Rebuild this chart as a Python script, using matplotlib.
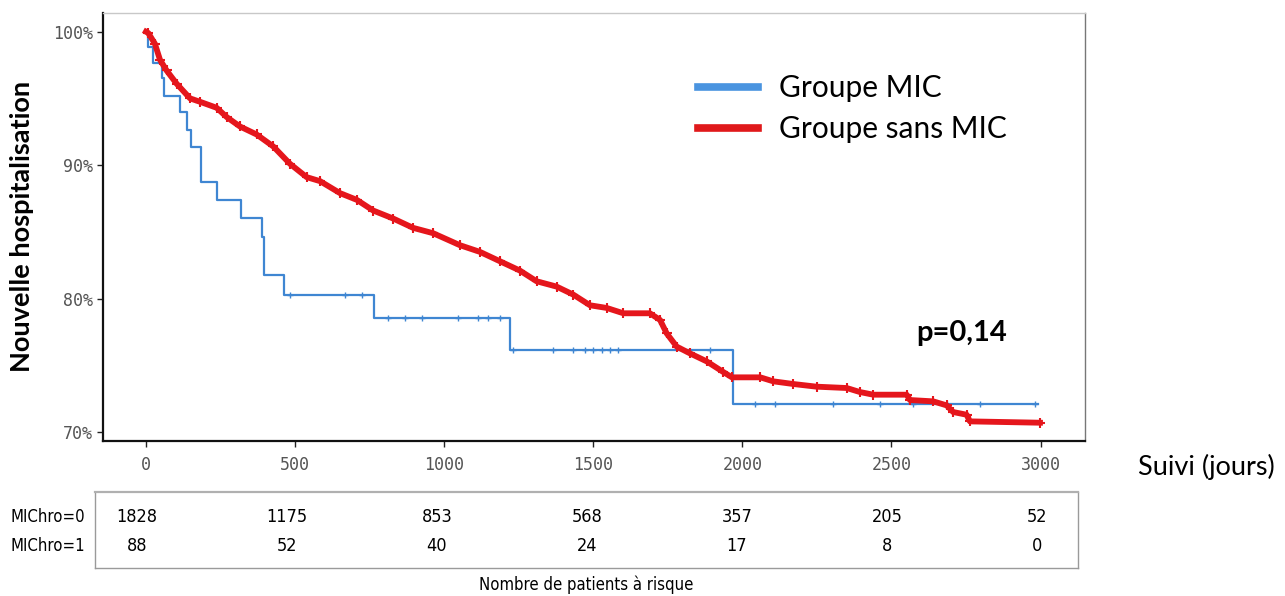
import numpy as np
import matplotlib
matplotlib.use("Agg")
import matplotlib.pyplot as plt
from matplotlib.lines import Line2D
from matplotlib.ticker import FuncFormatter

# ---------------- data ----------------
blue_t = [0, 7, 23, 54, 60, 114, 137, 151, 184, 238, 319, 389, 396, 463, 765, 1221, 1967, 2991]
blue_s = [100, 98.85, 97.65, 96.5, 95.2, 94.0, 92.65, 91.35, 88.75, 87.4, 86.05, 84.6, 81.75, 80.3, 78.55, 76.15, 72.1, 72.1]
blue_cens_t = [483, 667, 724, 812, 869, 926, 1046, 1113, 1147, 1187, 1231, 1365, 1432, 1472,
               1499, 1529, 1556, 1583, 1891, 2042, 2109, 2304, 2461, 2572, 2686, 2797, 2981]

red_t = [0, 8, 30, 47, 69, 103, 148, 181, 237, 271, 315, 371, 427, 483, 539, 584, 651, 707, 762, 829,
         896, 963, 1053, 1120, 1187, 1254, 1310, 1377, 1433, 1489, 1545, 1601, 1690, 1724, 1746, 1780,
         1824, 1880, 1936, 1965, 2060, 2104, 2171, 2249, 2350, 2394, 2439, 2551, 2562, 2640, 2685,
         2707, 2752, 2763, 2998]
red_s = [100, 99.9, 99.1, 97.9, 97.1, 96.1, 95.0, 94.75, 94.3, 93.6, 92.9, 92.3, 91.4, 90.1, 89.1, 88.8,
         87.9, 87.4, 86.6, 86.0, 85.3, 84.9, 84.0, 83.5, 82.8, 82.1, 81.3, 80.9, 80.3, 79.5, 79.3, 78.9,
         78.9, 78.4, 77.4, 76.4, 75.9, 75.3, 74.5, 74.1, 74.1, 73.8, 73.6, 73.4, 73.3, 73.0, 72.8, 72.8,
         72.4, 72.3, 72.0, 71.5, 71.3, 70.8, 70.7]

x_ticks = [0, 500, 1000, 1500, 2000, 2500, 3000]
y_ticks = [70, 80, 90, 100]
risk_times = [0, 500, 1000, 1500, 2000, 2500, 3000]
risk_mic0 = [1828, 1175, 853, 568, 357, 205, 52]
risk_mic1 = [88, 52, 40, 24, 17, 8, 0]
row_labels = ["MIChro=0", "MIChro=1"]
legend_labels = ["Groupe MIC", "Groupe sans MIC"]

BLUE = "#3f86d2"
RED = "#e5161c"
LEG_BLUE = "#4a94e0"
LEG_RED = "#e0191b"

W, H = 1285, 596
fig = plt.figure(figsize=(W / 100, H / 100), dpi=100)

def fx(px):
    return px / W

def fy(py):
    return 1 - py / H

# ---------------- main axes ----------------
ax = fig.add_axes([fx(103), fy(441), fx(1085) - fx(103), fy(13) - fy(441)])
ax.set_xlim(-144, 3149)
ax.set_ylim(69.33, 101.4)

ax.step(blue_t, blue_s, where="post", color=BLUE, lw=1.6, zorder=3)
bt = np.array(blue_t)
bs = np.array(blue_s)
idx = np.searchsorted(bt, blue_cens_t, side="right") - 1
ax.plot(blue_cens_t, bs[idx], ls="none", marker="+", ms=5, mew=1.0, color=BLUE, zorder=3)

ax.plot(red_t, red_s, color=RED, lw=4.2, zorder=4, solid_joinstyle="round")
ax.plot(red_t[1:], red_s[1:], ls="none", marker="+", ms=7, mew=1.5, color=RED, zorder=4)

ax.set_xticks(x_ticks)
ax.set_yticks(y_ticks)
ax.yaxis.set_major_formatter(FuncFormatter(lambda v, p: f"{int(v)}%"))
ax.tick_params(axis="both", direction="out", length=4, width=1, color="#222222",
               labelcolor="#555555", labelsize=12, pad=3)
for lab in ax.get_xticklabels() + ax.get_yticklabels():
    lab.set_fontfamily("DejaVu Sans Mono")
ax.tick_params(axis="x", pad=7)

for s in ["left", "bottom"]:
    ax.spines[s].set_color("#111111")
    ax.spines[s].set_linewidth(1.6)
ax.spines["top"].set_color("#c8c8c8")
ax.spines["top"].set_linewidth(1.0)
ax.spines["right"].set_color("#777777")
ax.spines["right"].set_linewidth(1.0)

handles = [Line2D([0], [0], color=LEG_BLUE, lw=5.5),
           Line2D([0], [0], color=LEG_RED, lw=5.5)]
ax.legend(handles, legend_labels, loc="upper left",
          bbox_to_anchor=((698 - 103) / 982, (441 - 74) / 428),
          frameon=False, prop={"family": "Lato", "size": 21.5},
          handlelength=2.0, handletextpad=0.7, labelspacing=0.44, borderpad=0,
          borderaxespad=0)

ax.text((962 - 103) / 982, (441 - 333) / 428, "p=0,14", transform=ax.transAxes,
        ha="center", va="center", fontsize=21, fontweight="bold", family="Lato")

fig.text(fx(22), fy(226), "Nouvelle hospitalisation", rotation=90, ha="center", va="center",
         fontsize=19.5, fontweight="bold", family="Lato")
fig.text(fx(1206), fy(467), "Suivi (jours)", ha="center", va="center", fontsize=19.5, family="Lato")

# ---------------- risk table ----------------
tax = fig.add_axes([fx(95), fy(568), fx(1078) - fx(95), fy(492) - fy(568)])
tax.set_xlim(-140, 3137)
tax.set_ylim(0, 1)
tax.set_xticks([])
tax.set_yticks([])
for s in tax.spines.values():
    s.set_color("#9a9a9a")
    s.set_linewidth(1.0)
tax.spines["top"].set_color("#b0b0b0")
tax.spines["top"].set_linewidth(1.6)

row_y = [(568 - 517) / 76, (568 - 546) / 76]
for t, a, b in zip(risk_times, risk_mic0, risk_mic1):
    tax.text(t, row_y[0], str(a), ha="center", va="center", fontsize=13,
             family="DejaVu Sans", fontstretch="condensed")
    tax.text(t, row_y[1], str(b), ha="center", va="center", fontsize=13,
             family="DejaVu Sans", fontstretch="condensed")
for lab, yv in zip(row_labels, row_y):
    fig.text(fx(85), fy(568) + yv * (fy(492) - fy(568)), lab, ha="right", va="center",
             fontsize=12, family="DejaVu Sans", fontstretch="condensed")

fig.text(fx(586), fy(585), "Nombre de patients à risque", ha="center", va="center",
         fontsize=12, family="DejaVu Sans", fontstretch="condensed")

fig.savefig("out.png", dpi=100, facecolor="white")
